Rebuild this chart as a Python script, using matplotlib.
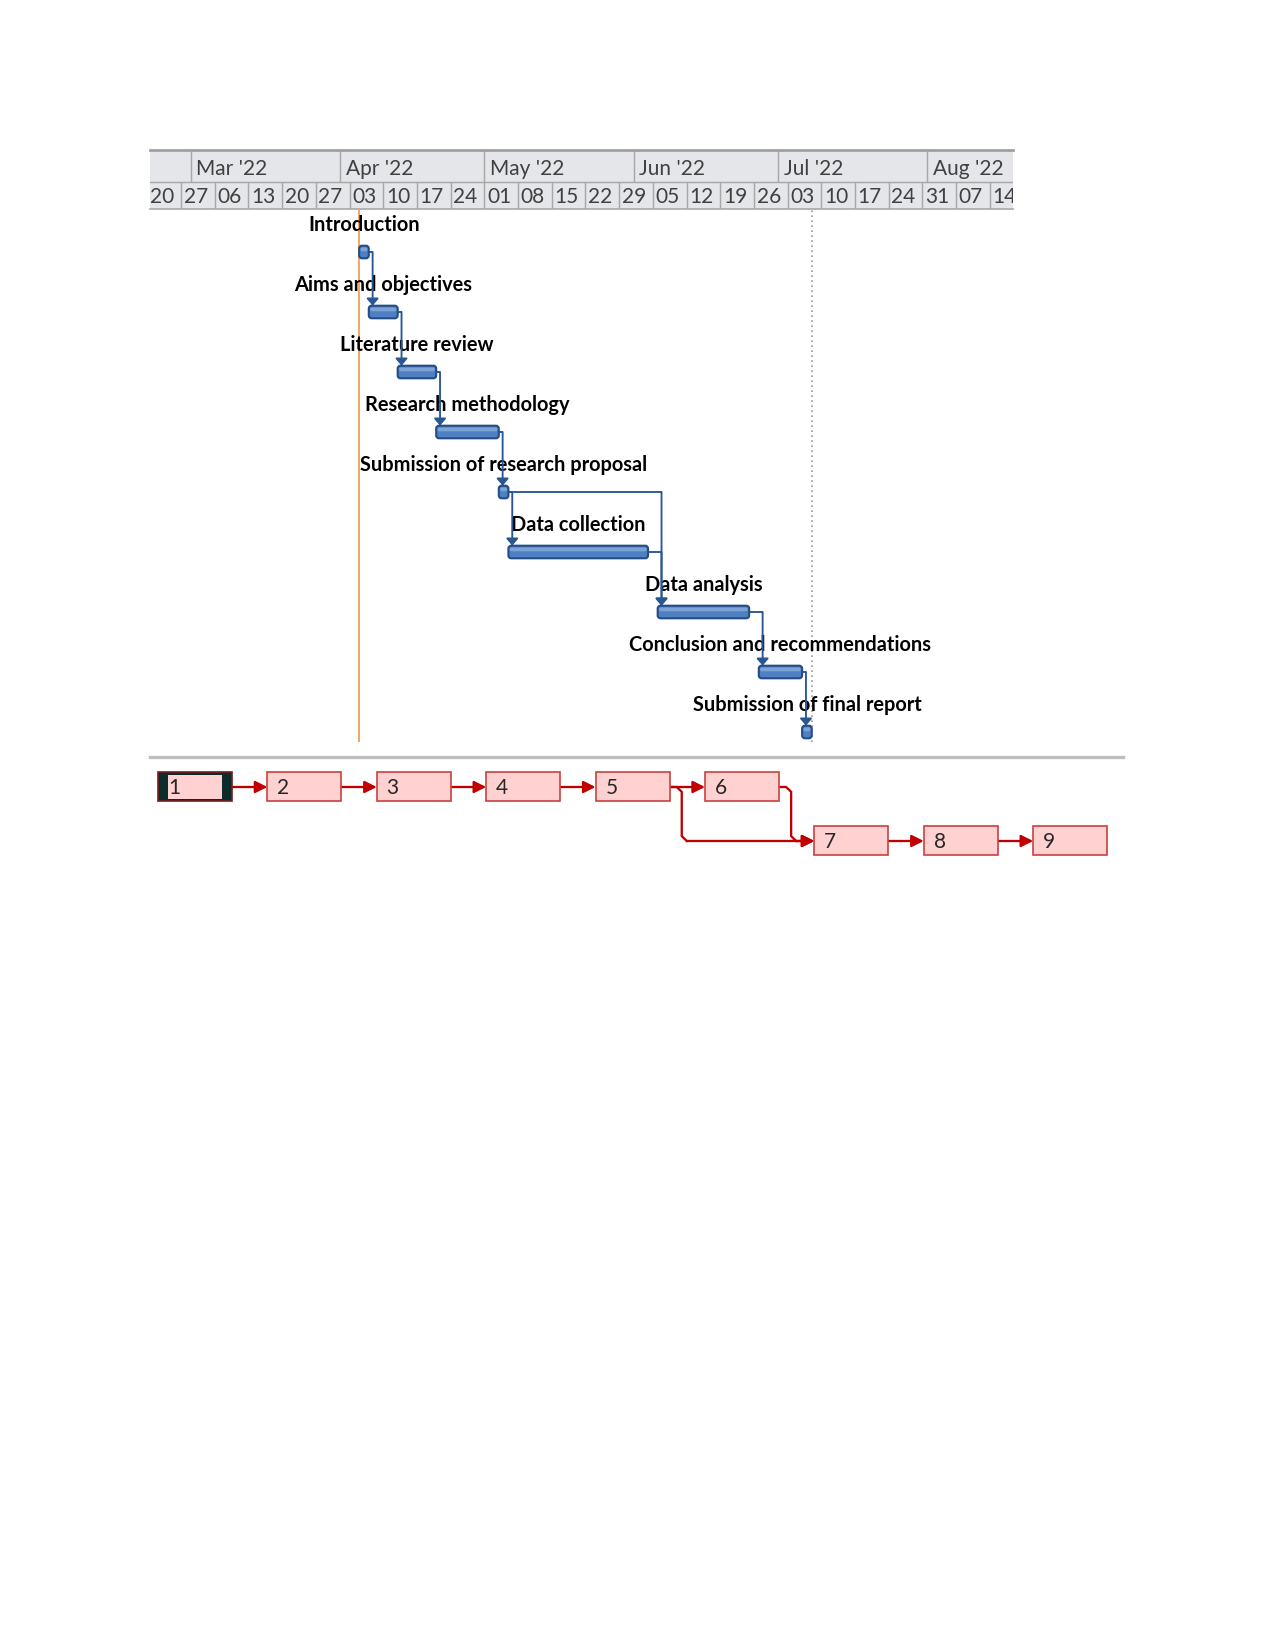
import matplotlib
matplotlib.use("Agg")
import matplotlib.pyplot as plt
import matplotlib.dates as mdates
from matplotlib.patches import FancyBboxPatch, Rectangle
import pandas as pd

# --- data ---------------------------------------------------------------
task_names = [
    "Introduction",
    "Aims and objectives",
    "Literature review",
    "Research methodology",
    "Submission of research proposal",
    "Data collection",
    "Data analysis",
    "Conclusion and recommendations",
    "Submission of final report",
]
task_start = ["2022-04-05", "2022-04-07", "2022-04-13", "2022-04-21", "2022-05-04",
              "2022-05-06", "2022-06-06", "2022-06-27", "2022-07-06"]
task_end = ["2022-04-07", "2022-04-13", "2022-04-21", "2022-05-04", "2022-05-06",
            "2022-06-04", "2022-06-25", "2022-07-06", "2022-07-08"]
# predecessor -> successor (task index)
links = [(0, 1), (1, 2), (2, 3), (3, 4), (4, 5), (4, 6), (5, 6), (6, 7), (7, 8)]

status_date = "2022-04-05"
finish_date = "2022-07-08"
week_labels_from = "2022-02-20"
week_labels_to = "2022-08-14"
month_labels_from = "2022-03-01"
month_labels_to = "2022-08-01"

# network diagram
box_ids = ["1", "2", "3", "4", "5", "6", "7", "8", "9"]
box_col = [0, 1, 2, 3, 4, 5, 6, 7, 8]
box_row = [0, 0, 0, 0, 0, 0, 1, 1, 1]

# --- layout ---------------------------------------------------------------
W, H = 1275, 1650
DPI = 150
plt.rcParams["font.family"] = ["Lato", "DejaVu Sans"]


def px_axes(fig, x0, y0, x1, y1):
    # axes from pixel box (top-left origin)
    return fig.add_axes([x0 / W, 1 - y1 / H, (x1 - x0) / W, (y1 - y0) / H])


d = mdates.date2num
view_start = d(pd.Timestamp("2022-02-20")) + 0.56
view_end = d(pd.Timestamp("2022-08-18")) + 0.8

fig = plt.figure(figsize=(W / DPI, H / DPI), dpi=DPI)
fig.patch.set_facecolor("white")

# timescale header
grid_c = "#A8A8A8"
hax = px_axes(fig, 150, 150, 1013, 209)
hax.set_xlim(view_start, view_end)
hax.set_ylim(0, 1)
hax.set_facecolor("#E4E6EA")
hax.set_xticks([])
hax.set_yticks([])
for s in ["left", "right"]:
    hax.spines[s].set_visible(False)
hax.spines["top"].set_color("#9E9E9E")
hax.spines["top"].set_linewidth(1.3)
hax.spines["bottom"].set_color(grid_c)
hax.spines["bottom"].set_linewidth(0.8)
split = 27 / 59
hax.axhline(split, color=grid_c, lw=0.7)

weeks = pd.date_range(week_labels_from, week_labels_to, freq="7D")
for w in weeks:
    hax.vlines(d(w), 0, split, color=grid_c, lw=0.7)
    hax.text(d(w) + 0.55, split / 2 - 0.03, w.strftime("%d"), ha="left", va="center",
             fontsize=10, color="#404040", clip_on=True)

months = pd.date_range(month_labels_from, month_labels_to, freq="MS")
for m in months:
    hax.vlines(d(m), split, 1, color=grid_c, lw=0.7)
    hax.text(d(m) + 1.2, (split + 1) / 2 - 0.05, m.strftime("%b '%y"), ha="left", va="center",
             fontsize=10, color="#404040", clip_on=True)

# gantt body
gax = px_axes(fig, 150, 209, 1013, 742)
gax.set_xlim(view_start, view_end)
gax.set_ylim((742 - 252) / 60, -(252 - 209) / 60)
gax.axis("off")

gax.axvline(d(pd.Timestamp(status_date)), color="#F2A35E", lw=0.9)
gax.axvline(d(pd.Timestamp(finish_date)), color="#9A9A9A", lw=0.8, ls=(0, (1, 2)))

bar_h = 0.21
bar_fc = "#4F80C2"
bar_ec = "#244C86"
link_c = "#2A5694"

starts = [d(pd.Timestamp(s)) for s in task_start]
ends = [d(pd.Timestamp(e)) for e in task_end]

for i, (name, s, e) in enumerate(zip(task_names, starts, ends)):
    bar = FancyBboxPatch((s, i - bar_h / 2), e - s, bar_h,
                         boxstyle="round,pad=0,rounding_size=0.6",
                         mutation_aspect=0.08, fc=bar_fc, ec=bar_ec, lw=1.0, zorder=3)
    gax.add_patch(bar)
    # light top band to mimic the shaded bars
    hl = FancyBboxPatch((s + 0.3, i - bar_h / 2 + 0.03), max(e - s - 0.6, 0.2), bar_h * 0.3,
                        boxstyle="round,pad=0,rounding_size=0.3",
                        mutation_aspect=0.08, fc="#7CA3D8", ec="none", zorder=3.1)
    gax.add_patch(hl)
    gax.text((s + e) / 2, i - 0.45, name, ha="center", va="center",
             fontsize=9.6, fontweight="bold", color="black", zorder=2)

for a, b in links:
    xv = starts[b] + 0.8
    gax.plot([ends[a], xv], [a, a], color=link_c, lw=0.9, zorder=2.5, solid_capstyle="butt")
    gax.annotate("", xy=(xv, b - bar_h / 2), xytext=(xv, a),
                 arrowprops=dict(arrowstyle="-|>,head_length=0.35,head_width=0.3",
                                 color=link_c, lw=0.9, mutation_scale=8,
                                 shrinkA=0, shrinkB=0),
                 zorder=2.5)

# network diagram
nax = px_axes(fig, 150, 757, 1123, 870)
nax.set_xlim((150 - 158) / 109.4, (1123 - 158) / 109.4)
nax.set_ylim((870 - 787) / 54, (757 - 787) / 54)
nax.set_xticks([])
nax.set_yticks([])
for s in ["left", "right", "bottom"]:
    nax.spines[s].set_visible(False)
nax.spines["top"].set_color("#BEBEBE")
nax.spines["top"].set_linewidth(1.6)

bw, bh = 74 / 109.4, 29 / 54
box_fc = "#FFD1D1"
box_ec = "#C8413F"
net_c = "#C00000"

for k, (lab, c, r) in enumerate(zip(box_ids, box_col, box_row)):
    if k == 0:
        # selected node: dark frame
        nax.add_patch(Rectangle((c, r - bh / 2), bw, bh, fc="#0E2B2B", ec="#7A1C1C", lw=0.8, zorder=3))
        nax.add_patch(Rectangle((c + 0.092, r - bh / 2 + 0.045), bw - 0.184, bh - 0.09,
                                fc=box_fc, ec="none", zorder=3.1))
    else:
        nax.add_patch(Rectangle((c, r - bh / 2), bw, bh, fc=box_fc, ec=box_ec, lw=0.8, zorder=3))
    nax.text(c + 0.09, r + 0.02, lab, ha="left", va="center", fontsize=10,
             color="#262626", zorder=4)

arrow_kw = dict(arrowstyle="-|>,head_length=0.6,head_width=0.3", color=net_c, lw=1.1,
                mutation_scale=8, shrinkA=0, shrinkB=0)
for a, b in links:
    ca, ra = box_col[a], box_row[a]
    cb, rb = box_col[b], box_row[b]
    x_from = ca + bw
    if ra == rb:
        nax.annotate("", xy=(cb, rb), xytext=(x_from, ra), arrowprops=arrow_kw, zorder=2)
    else:
        xv = x_from + 0.111
        chx, chy = 0.046, 0.09
        nax.plot([x_from, xv - chx, xv, xv, xv + chx], [ra, ra, ra + chy, rb - chy, rb],
                 color=net_c, lw=1.1, zorder=2, solid_joinstyle="miter")
        nax.annotate("", xy=(cb, rb), xytext=(xv + chx, rb), arrowprops=arrow_kw, zorder=2)

fig.savefig("out.png", dpi=DPI, facecolor="white")
plt.close(fig)
